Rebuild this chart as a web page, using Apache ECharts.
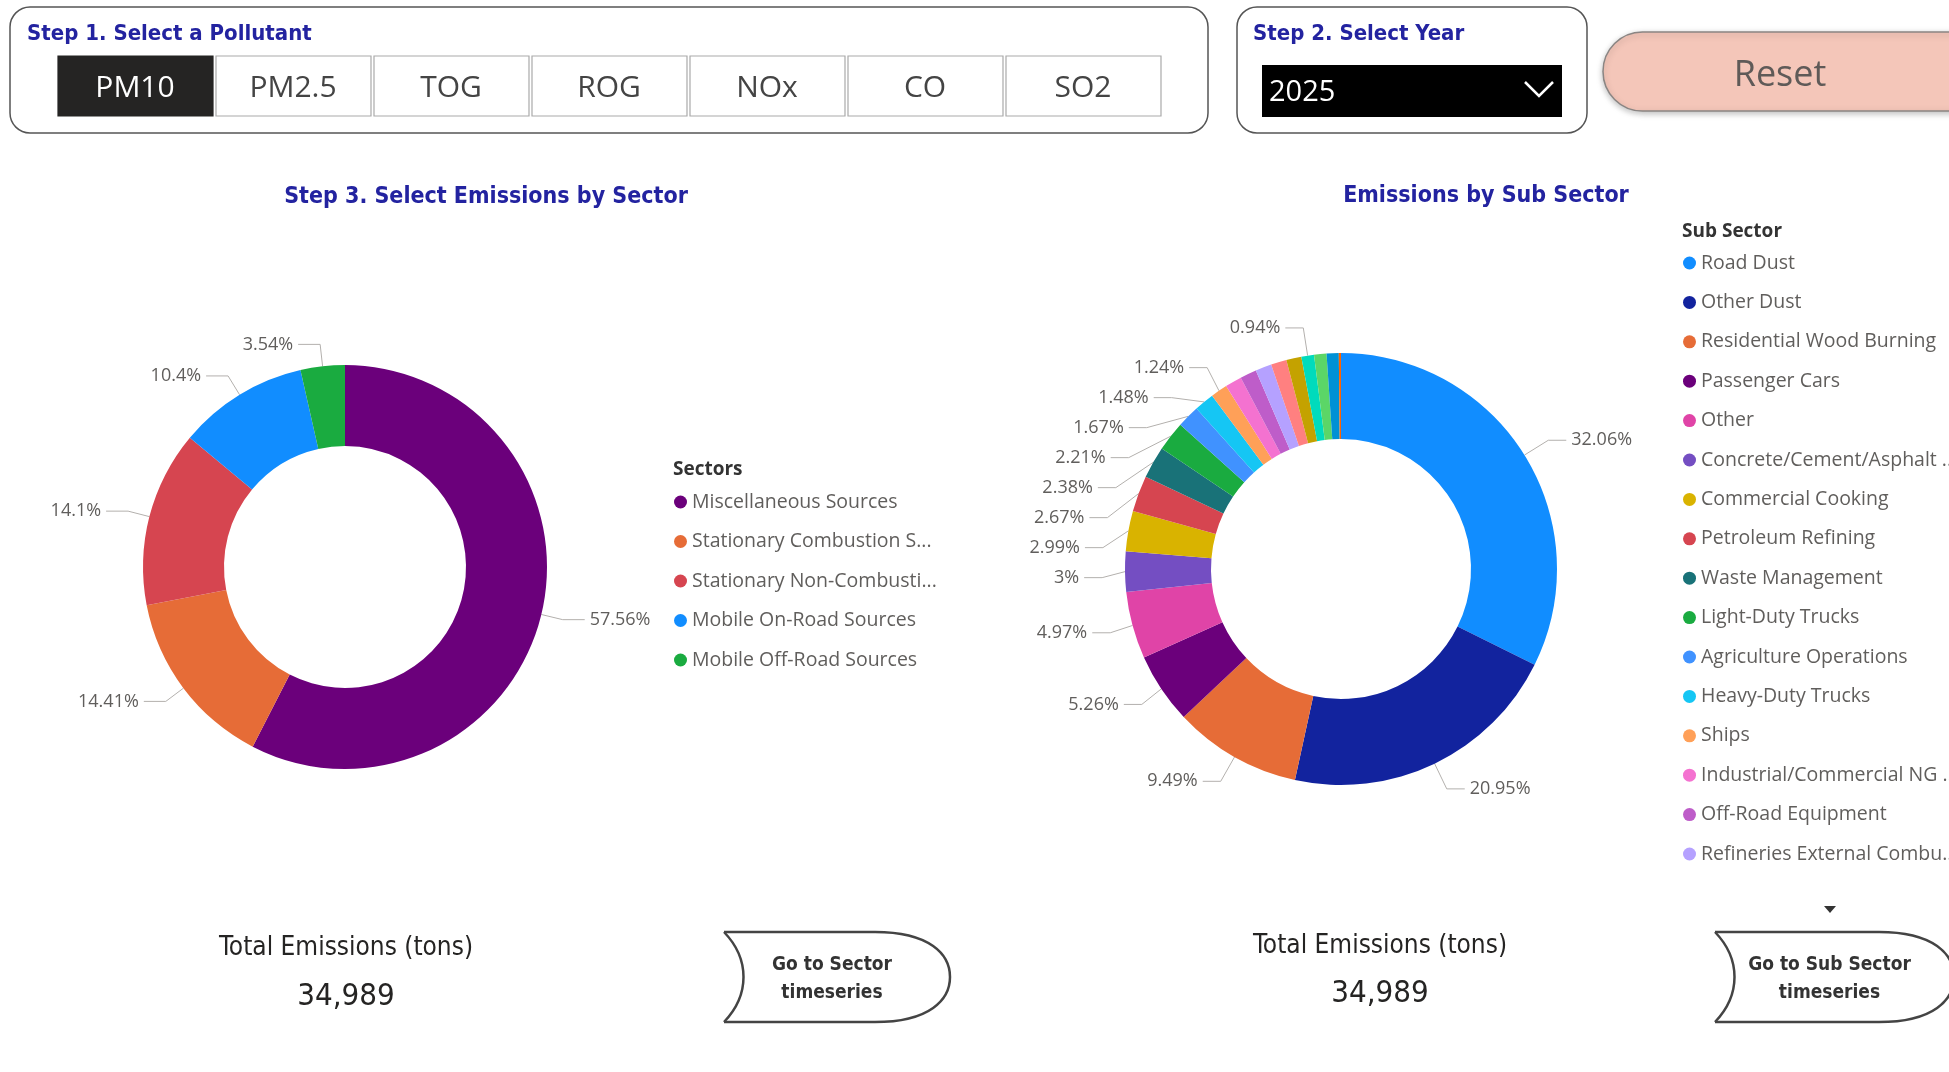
<!DOCTYPE html>
<html>
<head>
<meta charset="utf-8">
<title>Emissions by Sector</title>
<script src="https://cdn.jsdelivr.net/npm/echarts@6/dist/echarts.min.js"></script>
<style>
  html, body { margin: 0; padding: 0; background: #fff; }
  #main { width: 1949px; height: 1072px; }
</style>
</head>
<body>
<div id="main"></div>
<script>
// slicers
var pollutants = ['PM10', 'PM2.5', 'TOG', 'ROG', 'NOx', 'CO', 'SO2']
var selectedPollutant = 'PM10'
var selectedYear = '2025'
var totalEmissions = '34,989'

// sector donut, % of total
var sectorNames = ['Miscellaneous Sources', 'Stationary Combustion Sources', 'Stationary Non-Combustion Sources', 'Mobile On-Road Sources', 'Mobile Off-Road Sources']
var sectorValues = [57.56, 14.41, 14.1, 10.4, 3.54]
var sectorColors = ['#6B007B', '#E66C37', '#D64550', '#118DFF', '#1AAB40']

// sub sector donut, % of total
var subNames = ['Road Dust', 'Other Dust', 'Residential Wood Burning', 'Passenger Cars', 'Other',
  'Concrete/Cement/Asphalt Products', 'Commercial Cooking', 'Petroleum Refining', 'Waste Management',
  'Light-Duty Trucks', 'Agriculture Operations', 'Heavy-Duty Trucks', 'Ships',
  'Industrial/Commercial NG Combustion', 'Off-Road Equipment', 'Refineries External Combustion',
  'Fuel Combustion Other', 'Food and Agriculture Processing', 'Cleaning and Surface Coatings',
  'Trains', 'Aircraft', 'Recreational Boats']
var subValues = [32.06, 20.95, 9.49, 5.26, 4.97, 3, 2.99, 2.67, 2.38, 2.21, 1.67, 1.48, 1.24,
  1.24, 1.22, 1.2, 1.16, 1.12, 0.94, 0.92, 0.9, 0.16]
var subColors = ['#118DFF', '#12239E', '#E66C37', '#6B007B', '#E044A7', '#744EC2', '#D9B300',
  '#D64550', '#197278', '#1AAB40', '#4092FF', '#15C6F4', '#FFA058', '#F472D0', '#BE5DC9',
  '#B5A1FF', '#FF8080', '#C4A200', '#00DBBC', '#5BD667', '#0091D5', '#FF6300']
// slices that Power BI left without a data label
var subNoLabel = ['Industrial/Commercial NG Combustion', 'Off-Road Equipment', 'Refineries External Combustion',
  'Fuel Combustion Other', 'Food and Agriculture Processing', 'Trains', 'Aircraft', 'Recreational Boats']
var subLegendCount = 16

var uiFont = '"Segoe UI", "Open Sans", sans-serif'
var dinFont = '"Liberation Sans Narrow", "DejaVu Sans Condensed", Roboto, sans-serif'
var titleBlue = '#2323A0'

var myChart = echarts.init(document.getElementById('main'))

function goButton(x0, y0, w, h, text) {
  var s = { stroke: '#444', lineWidth: 2.5, fill: null }
  return {
    type: 'group',
    children: [
      { type: 'line', shape: { x1: x0 + 6, y1: y0, x2: x0 + w - 75, y2: y0 }, style: s },
      { type: 'bezierCurve', shape: { x1: x0 + w - 75, y1: y0, cpx1: x0 + w - 20, cpy1: y0, cpx2: x0 + w, cpy2: y0 + h * 0.25, x2: x0 + w, y2: y0 + h / 2 }, style: s },
      { type: 'bezierCurve', shape: { x1: x0 + w, y1: y0 + h / 2, cpx1: x0 + w, cpy1: y0 + h * 0.75, cpx2: x0 + w - 20, cpy2: y0 + h, x2: x0 + w - 75, y2: y0 + h }, style: s },
      { type: 'line', shape: { x1: x0 + w - 75, y1: y0 + h, x2: x0 + 6, y2: y0 + h }, style: s },
      { type: 'bezierCurve', shape: { x1: x0 + 6, y1: y0 + h, cpx1: x0 + 32, cpy1: y0 + h * 0.7, cpx2: x0 + 32, cpy2: y0 + h * 0.3, x2: x0 + 6, y2: y0 }, style: s },
      { type: 'text', style: { text: text, x: x0 + w / 2 - 2, y: y0 + h / 2 + 2, align: 'center', verticalAlign: 'middle',
        font: 'bold 19px ' + dinFont, fill: '#333', lineHeight: 28 } }
    ]
  }
}

var graphics = []
// step 1 box
graphics.push({ type: 'rect', shape: { x: 10, y: 7, width: 1198, height: 126, r: 20 }, style: { fill: '#fff', stroke: '#555', lineWidth: 1.5 } })
graphics.push({ type: 'text', style: { text: 'Step 1. Select a Pollutant', x: 27, y: 34, verticalAlign: 'middle', font: 'bold 22px ' + dinFont, fill: titleBlue } })
pollutants.forEach(function(p, i) {
  var on = p === selectedPollutant
  graphics.push({ type: 'rect', shape: { x: 58 + i * 158, y: 56, width: 155, height: 60 },
    style: { fill: on ? '#252423' : '#fff', stroke: on ? '#252423' : '#aaa', lineWidth: 1.2 } })
  graphics.push({ type: 'text', style: { text: p, x: 58 + i * 158 + 77, y: 88, align: 'center', verticalAlign: 'middle',
    font: '30px ' + uiFont, fill: on ? '#fff' : '#444' } })
})
// step 2 box
graphics.push({ type: 'rect', shape: { x: 1237, y: 7, width: 350, height: 126, r: 20 }, style: { fill: '#fff', stroke: '#555', lineWidth: 1.5 } })
graphics.push({ type: 'text', style: { text: 'Step 2. Select Year', x: 1253, y: 34, verticalAlign: 'middle', font: 'bold 22px ' + dinFont, fill: titleBlue } })
graphics.push({ type: 'rect', shape: { x: 1262, y: 65, width: 300, height: 52 }, style: { fill: '#000' } })
graphics.push({ type: 'text', style: { text: selectedYear, x: 1269, y: 93, verticalAlign: 'middle', font: '29px ' + uiFont, fill: '#fff' } })
graphics.push({ type: 'polyline', shape: { points: [[1525, 82], [1539, 96], [1553, 82]] }, style: { stroke: '#fff', lineWidth: 2.5, fill: null } })
// reset
graphics.push({ type: 'rect', shape: { x: 1603, y: 32, width: 400, height: 79, r: 40 },
  style: { fill: '#F4C6B9', stroke: '#8a8583', lineWidth: 1.5, shadowBlur: 6, shadowColor: 'rgba(0,0,0,0.25)', shadowOffsetY: 2 } })
graphics.push({ type: 'text', style: { text: 'Reset', x: 1780, y: 76, align: 'center', verticalAlign: 'middle', font: '36px ' + uiFont, fill: '#5f5a58' } })
// titles
graphics.push({ type: 'text', style: { text: 'Step 3. Select Emissions by Sector', x: 486, y: 197, align: 'center', verticalAlign: 'middle', font: 'bold 23px ' + dinFont, fill: titleBlue } })
graphics.push({ type: 'text', style: { text: 'Emissions by Sub Sector', x: 1486, y: 196, align: 'center', verticalAlign: 'middle', font: 'bold 23px ' + dinFont, fill: titleBlue } })
graphics.push({ type: 'text', style: { text: 'Sectors', x: 673, y: 470, verticalAlign: 'middle', font: 'bold 19px ' + uiFont, fill: '#333' } })
graphics.push({ type: 'text', style: { text: 'Sub Sector', x: 1682, y: 232, verticalAlign: 'middle', font: 'bold 19px ' + uiFont, fill: '#333' } })
graphics.push({ type: 'polygon', shape: { points: [[1824, 906], [1836, 906], [1830, 913]] }, style: { fill: '#333' } })
// totals
graphics.push({ type: 'text', style: { text: 'Total Emissions (tons)', x: 346, y: 948, align: 'center', verticalAlign: 'middle', font: '26px ' + dinFont, fill: '#252423' } })
graphics.push({ type: 'text', style: { text: totalEmissions, x: 346, y: 997, align: 'center', verticalAlign: 'middle', font: '31px ' + dinFont, fill: '#252423' } })
graphics.push({ type: 'text', style: { text: 'Total Emissions (tons)', x: 1380, y: 946, align: 'center', verticalAlign: 'middle', font: '26px ' + dinFont, fill: '#252423' } })
graphics.push({ type: 'text', style: { text: totalEmissions, x: 1380, y: 994, align: 'center', verticalAlign: 'middle', font: '31px ' + dinFont, fill: '#252423' } })
graphics.push(goButton(718, 932, 232, 90, 'Go to Sector\ntimeseries'))
graphics.push(goButton(1709, 932, 245, 90, 'Go to Sub Sector\ntimeseries'))

var legendText = { color: '#605E5C', fontSize: 19.5, fontFamily: uiFont, lineHeight: 20, overflow: 'truncate', ellipsis: '...' }
var lineColor = { color: '#b3b0ad', width: 1 }

var option = {
  animation: false,
  graphic: graphics,
  legend: [
    {
      orient: 'vertical',
      left: 674,
      top: 492,
      padding: 0,
      itemGap: 19.5,
      itemWidth: 13,
      itemHeight: 13,
      icon: 'circle',
      selectedMode: false,
      data: sectorNames,
      textStyle: Object.assign({ width: 252 }, legendText)
    },
    {
      orient: 'vertical',
      left: 1683,
      top: 253,
      padding: 0,
      itemGap: 19.4,
      itemWidth: 13,
      itemHeight: 13,
      icon: 'circle',
      selectedMode: false,
      data: subNames.slice(0, subLegendCount),
      textStyle: Object.assign({ width: 262 }, legendText)
    }
  ],
  series: [
    {
      type: 'pie',
      center: [345, 567],
      radius: [121, 202],
      startAngle: 90,
      label: { formatter: '{c}%', color: '#605E5C', fontSize: 18, fontFamily: uiFont },
      labelLine: { length: 22, length2: 22, lineStyle: lineColor },
      emphasis: { disabled: true },
      data: sectorNames.map(function(n, i) {
        return { name: n, value: sectorValues[i], itemStyle: { color: sectorColors[i] } }
      })
    },
    {
      type: 'pie',
      center: [1341, 569],
      radius: [130, 216],
      startAngle: 90,
      label: { formatter: '{c}%', color: '#605E5C', fontSize: 18, fontFamily: uiFont, lineHeight: 28 },
      labelLine: { length: 28, length2: 18, lineStyle: lineColor },
      emphasis: { disabled: true },
      data: subNames.map(function(n, i) {
        var hide = subNoLabel.indexOf(n) >= 0
        return { name: n, value: subValues[i], itemStyle: { color: subColors[i] },
          label: { show: !hide }, labelLine: { show: !hide } }
      })
    }
  ]
}
myChart.setOption(option)
</script>
</body>
</html>
